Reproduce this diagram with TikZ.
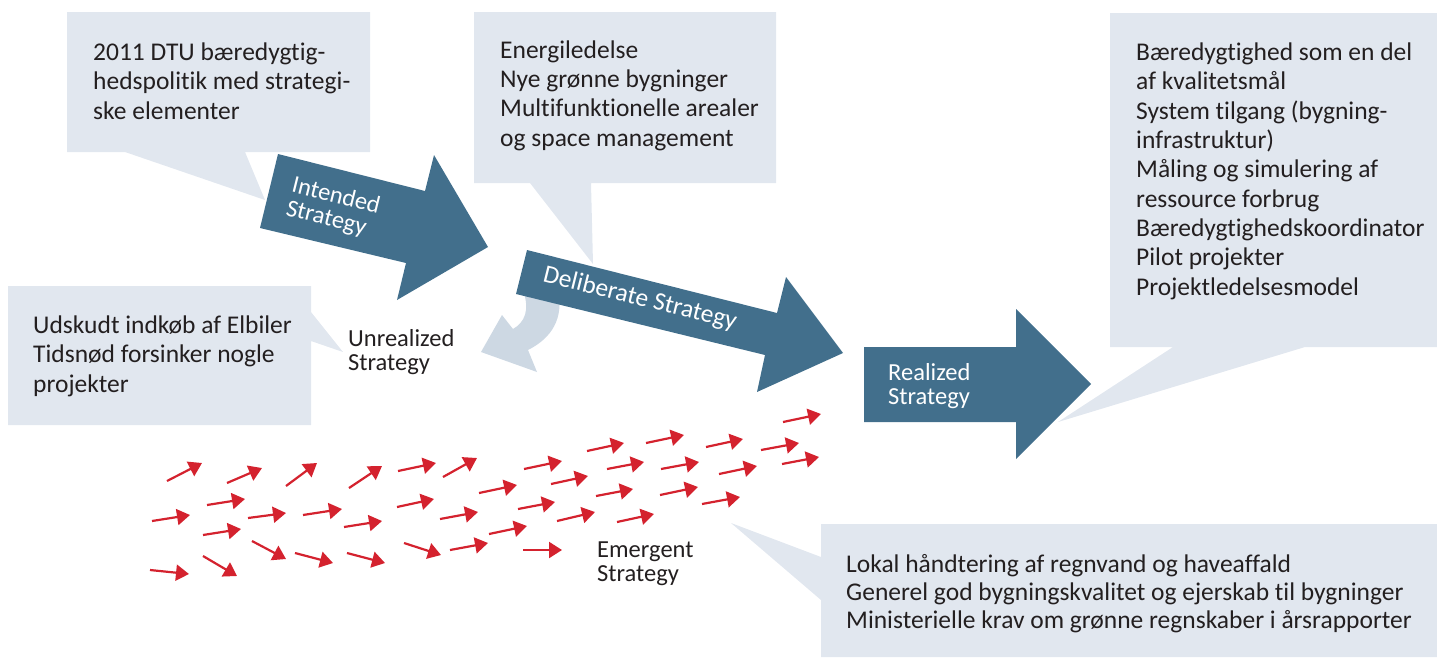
\documentclass[tikz,border=0pt]{standalone}
\usepackage{fontspec}
\setmainfont{Carlito}[Ligatures=NoCommon]
\usetikzlibrary{arrows.meta}
\definecolor{boxfill}{RGB}{225,231,239}
\definecolor{unrealfill}{RGB}{205,216,227}
\definecolor{arrowblue}{RGB}{66,111,140}
\definecolor{emred}{RGB}{212,34,46}
\definecolor{textdark}{RGB}{35,31,32}
\begin{document}
\begin{tikzpicture}[x=1pt,y=-1pt,
  callout/.style={fill=boxfill},
  bigarrow/.style={fill=arrowblue},
  boxtext/.style={anchor=base west, align=left, inner sep=0pt, text=textdark,
    font=\fontsize{25.5}{29.3}\selectfont},
  stratlabel/.style={align=left, inner sep=0pt, font=\fontsize{24.5}{24}\selectfont},
  emarrow/.style={draw=emred, line width=2.2pt, -{Triangle[length=13pt,width=16pt]}}]
 \useasboundingbox (0,0) rectangle (1437,657);

 \fill[callout] (67,12) rectangle (370,152) (125,152) -- (265,200) -- (245,152) -- cycle;
 \fill[callout] (474,12) rectangle (776,183) (530,183) -- (593,264) -- (591,183) -- cycle;
 \fill[callout] (8,286) rectangle (311,425) (311,312) -- (343,352) -- (311,341) -- cycle;
 \fill[callout] (1110,13) rectangle (1437,347) (1173,347) -- (1058,422) -- (1305,347) -- cycle;
 \fill[callout] (821,524) rectangle (1437,657) (821,557) -- (731,523) -- (821,600) -- cycle;

 \node[boxtext] (policy) at (93,119) {2011 DTU bæredygtig-\\hedspolitik med strategi-\\ske elementer};
 \node[boxtext] (energy) at (500,146) {Energiledelse\\Nye grønne bygninger\\Multifunktionelle arealer\\og space management};
 \node[boxtext] (postponed) at (33,392) {Udskudt indkøb af Elbiler\\Tidsnød forsinker nogle\\projekter};
 \node[boxtext] (quality) at (1136,295) {Bæredygtighed som en del\\af kvalitetsmål\\System tilgang (bygning-\\infrastruktur)\\Måling og simulering af\\ressource forbrug\\Bæredygtighedskoordinator\\Pilot projekter\\Projektledelsesmodel};
 \node[boxtext, font=\fontsize{25.5}{28}\selectfont] (local) at (846,628) {Lokal håndtering af regnvand og haveaffald\\Generel god bygningskvalitet og ejerskab til bygninger\\Ministerielle krav om grønne regnskaber i årsrapporter};

 \fill[unrealfill] (523,290) -- (558,290) .. controls (564,318) and (552,338) .. (528,350)
   -- (537,372) -- (481,352) -- (502,315) -- (513,329) .. controls (525,322) and (530,310) .. (523,290) -- cycle;

 \fill[bigarrow] (278,154) -- (425,191) -- (434,155) -- (488,247) -- (397,300) -- (406,263) -- (260,228) -- cycle;
 \fill[bigarrow] (527,250) -- (777,313) -- (786,277) -- (843,353) -- (757,392) -- (765,355) -- (516,294) -- cycle;
 \fill[bigarrow] (864,347) -- (1016,347) -- (1016,309) -- (1091,384) -- (1016,459) -- (1016,422) -- (864,422) -- cycle;

 \node[stratlabel, white, rotate=-14] (intended) at (333,208) {Intended\\Strategy};
 \node[stratlabel, white, rotate=-14, font=\fontsize{25.5}{24}\selectfont] (deliberate) at (640,299) {Deliberate Strategy};
 \node[stratlabel, white, anchor=base west] (realized) at (888,404) {Realized\\Strategy};
 \node[stratlabel, text=textdark, anchor=base west] (unrealized) at (348,370) {Unrealized\\Strategy};
 \node[stratlabel, text=textdark, anchor=base west] (emergent) at (597,581) {Emergent\\Strategy};

 \foreach \ax/\ay/\bx/\by in {167/481/202/463, 227/483/262/468, 286/486/317/463, 349/488/382/466,
   398/471/436/463, 443/477/477/458, 524/469/562/461, 587/451/624/443, 646/443/684/435,
   706/447/743/439, 783/422/821/414, 761/450/799/443, 782/464/819/457, 551/484/588/476,
   607/469/644/462, 661/469/699/462, 719/474/757/466, 479/493/517/485, 207/505/245/499,
   152/521/190/515, 248/518/286/513, 303/515/342/509, 344/527/382/521, 203/535/241/529,
   397/507/434/499, 518/509/555/502, 440/519/478/512, 557/521/595/512, 596/496/633/489,
   660/495/698/487, 702/504/740/497, 489/534/527/526, 617/522/654/514, 252/541/286/559,
   295/553/333/563, 347/553/385/563, 150/570/189/574, 203/556/237/576, 404/543/441/555,
   450/550/488/543, 523/550/562/550}
   \draw[emarrow] (\ax,\ay) -- (\bx,\by);
\end{tikzpicture}
\end{document}
